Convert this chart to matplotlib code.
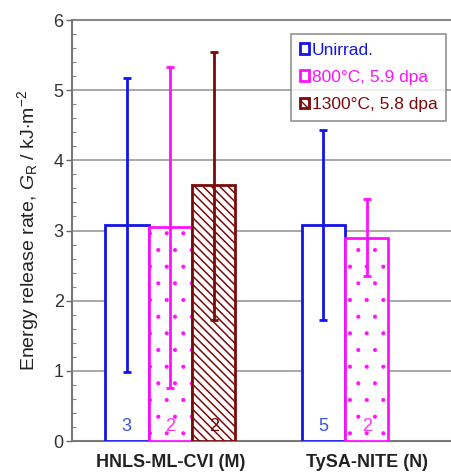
import matplotlib
matplotlib.use("Agg")
import matplotlib.pyplot as plt
import numpy as np

plt.rcParams['font.family'] = ['Liberation Sans', 'DejaVu Sans']
plt.rcParams['mathtext.fontset'] = 'custom'
plt.rcParams['mathtext.rm'] = 'Liberation Sans'
plt.rcParams['mathtext.it'] = 'Liberation Sans:italic'

# data
materials = ['HNLS-ML-CVI (M)', 'TySA-NITE (N)']
series = ['Unirrad.', '800°C, 5.9 dpa', '1300°C, 5.8 dpa']
means = [[3.08, 3.08], [3.05, 2.90], [3.65, None]]
err_lo = [[0.98, 1.72], [0.75, 2.35], [1.72, None]]
err_hi = [[5.18, 4.43], [5.33, 3.45], [5.55, None]]
counts = [[3, 5], [2, 2], [2, None]]

colors = ['#1414e6', '#ff10ff', '#7a0a0a']
text_colors = ['#3a55d8', '#ff30ff', '#7a0a0a']
hatches = [None, '.', '\\\\\\\\']
hatch_lw = [1.0, 0.5, 1.1]

fig = plt.figure(figsize=(4.52, 4.73), dpi=100)
ax = fig.add_axes([72 / 452, 32 / 473, 393 / 452, 421 / 473])

w = 0.221
x = np.arange(len(materials))
for i in range(len(series)):
    idx = [j for j in range(len(materials)) if means[i][j] is not None]
    pos = x[idx] + (i - 1) * w
    vals = [means[i][j] for j in idx]
    with plt.rc_context({'hatch.linewidth': hatch_lw[i]}):
        bars = ax.bar(pos, vals, w, facecolor='white', edgecolor=colors[i],
                      linewidth=2, hatch=hatches[i], label=series[i], zorder=3)
    for b in bars:
        if hasattr(b, 'set_hatch_linewidth'):
            b.set_hatch_linewidth(hatch_lw[i])
    lo = [vals[k] - err_lo[i][j] for k, j in enumerate(idx)]
    hi = [err_hi[i][j] - vals[k] for k, j in enumerate(idx)]
    ax.errorbar(pos, vals, yerr=[lo, hi], fmt='none', ecolor=colors[i],
                elinewidth=2, capsize=3, capthick=2, zorder=4)
    for k, j in enumerate(idx):
        ax.text(pos[k], 0.2, str(counts[i][j]), color=text_colors[i],
                ha='center', va='center', fontsize=13, zorder=5)

ax.set_xlim(-0.5, 1.5)
ax.set_ylim(0, 6)
ax.set_yticks(range(7))
ax.set_yticks(np.arange(0, 6.01, 0.2), minor=True)
ax.tick_params(axis='y', which='major', direction='out', length=4, width=1,
               color='#666666', labelsize=13, labelcolor='#333333', pad=2)
ax.tick_params(axis='y', which='minor', direction='in', length=3, width=0.8,
               color='#888888')
ax.set_xticks(x)
ax.set_xticklabels(materials, fontweight='bold', fontsize=13, color='#222222')
ax.tick_params(axis='x', length=0, pad=9)
ax.grid(axis='y', color='#a0a0a0', linewidth=1.3, zorder=0)
ax.set_axisbelow(True)
for s in ['top', 'right']:
    ax.spines[s].set_visible(False)
for s in ['left', 'bottom']:
    ax.spines[s].set_color('#777777')
    ax.spines[s].set_linewidth(1.5)
ax.axhline(6, color='#888888', linewidth=1.5, zorder=1, clip_on=False)

ax.set_ylabel(r'Energy release rate, $G_\mathrm{R}$ / kJ$\cdot$m$^{-2}$',
              fontsize=14, color='#222222', labelpad=9)

leg = ax.legend(loc='upper left', bbox_to_anchor=(291 / 452, 1 - 34 / 473),
                bbox_transform=fig.transFigure, frameon=True, fancybox=False,
                edgecolor='#777777', fontsize=12.5, handlelength=0.55,
                handleheight=0.55, handletextpad=0.15, borderpad=0.5,
                labelspacing=0.7, borderaxespad=0)
leg.get_frame().set_linewidth(1.2)
for t, c in zip(leg.get_texts(), colors):
    t.set_color(c)

fig.savefig('out.png', dpi=100)
